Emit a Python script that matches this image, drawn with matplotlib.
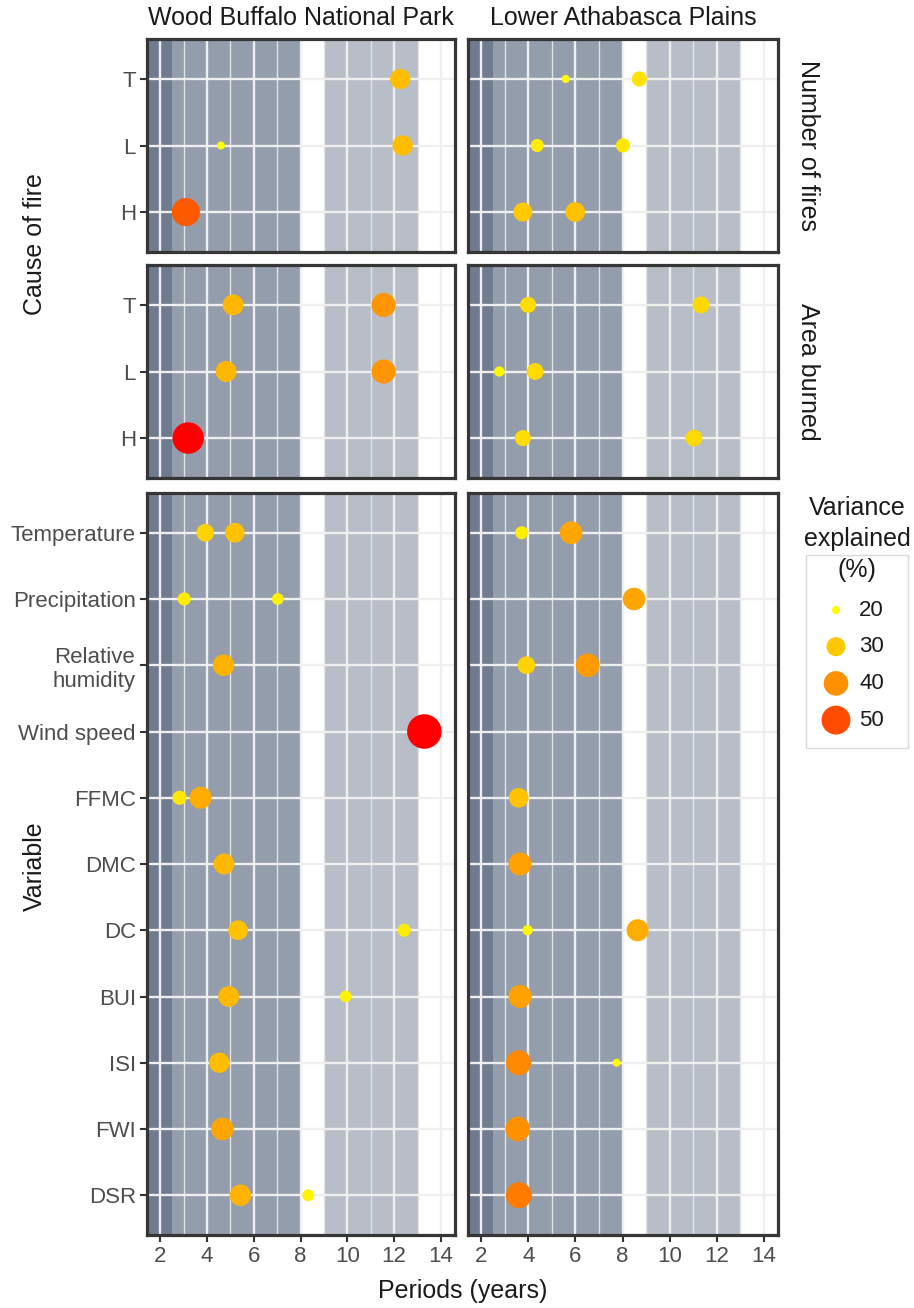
import matplotlib
matplotlib.use("Agg")
import matplotlib.pyplot as plt
from matplotlib.colors import LinearSegmentedColormap
import numpy as np

plt.rcParams['font.family'] = ['Liberation Sans', 'DejaVu Sans']

# ---- data -------------------------------------------------------------
regions = ["Wood Buffalo National Park", "Lower Athabasca Plains"]
causes = ["H", "L", "T"]                      # bottom -> top
variables = ["Temperature", "Precipitation", "Relative\nhumidity", "Wind speed",
             "FFMC", "DMC", "DC", "BUI", "ISI", "FWI", "DSR"]   # top -> bottom

# number of fires
nf_wb_cat = ["T", "L", "L", "H"]
nf_wb_period = [12.26, 4.6, 12.36, 3.1]
nf_wb_var = [32, 20, 32, 48]

nf_la_cat = ["T", "T", "L", "L", "H", "H"]
nf_la_period = [5.59, 8.71, 4.38, 8.02, 3.77, 5.99]
nf_la_var = [20, 25, 23, 24, 30, 31]

# area burned
ab_wb_cat = ["T", "T", "L", "L", "H"]
ab_wb_period = [5.12, 11.55, 4.82, 11.55, 3.2]
ab_wb_var = [33, 39, 33, 39, 57]

ab_la_cat = ["T", "T", "L", "L", "H", "H"]
ab_la_period = [3.99, 11.33, 2.77, 4.29, 3.77, 11.03]
ab_la_var = [26, 27, 21, 27, 26, 27]

# weather variables
wv_wb_name = ["Temperature", "Temperature", "Precipitation", "Precipitation",
              "Relative\nhumidity", "Wind speed", "FFMC", "FFMC", "DMC", "DC", "DC",
              "BUI", "BUI", "ISI", "FWI", "DSR", "DSR"]
wv_wb_period = [3.93, 5.19, 3.03, 7.03, 4.71, 13.29, 2.83, 3.73, 4.73, 5.33, 12.43,
                4.93, 9.93, 4.53, 4.66, 5.43, 8.33]
wv_wb_var = [28, 31, 23, 22, 34, 66, 24, 35, 33, 31, 23, 33, 22, 32, 36, 34, 22]

wv_la_name = ["Temperature", "Temperature", "Precipitation", "Relative\nhumidity",
              "Relative\nhumidity", "FFMC", "DMC", "DC", "DC", "BUI", "ISI", "ISI",
              "FWI", "DSR"]
wv_la_period = [3.72, 5.82, 8.49, 3.92, 6.52, 3.59, 3.65, 3.97, 8.64, 3.65, 3.59, 7.75,
                3.55, 3.6]
wv_la_var = [23, 36, 36, 28, 38, 31, 37, 21, 35, 37, 41, 20, 40, 43]

# shaded period bands
band_start = [0, 2.5, 9]
band_end = [2.5, 8, 13]
band_color = ["#6f7b8e", "#939dac", "#b8bec8"]

legend_vals = [20, 30, 40, 50]

# ---- scales -------------------------------------------------------------
VMIN, VMAX = 19.5, 67.5
cmap = LinearSegmentedColormap.from_list(
    "var", [(0.0, "#ffff00"), ((30 - VMIN) / (VMAX - VMIN), "#ffc800"),
            ((40 - VMIN) / (VMAX - VMIN), "#ff9000"),
            ((50 - VMIN) / (VMAX - VMIN), "#ff4c00"),
            ((57 - VMIN) / (VMAX - VMIN), "#ff0000"), (1.0, "#ff0000")])


def colour(v):
    return cmap(np.clip((np.asarray(v, float) - VMIN) / (VMAX - VMIN), 0, 1))


def size(v):
    # diameter in px (area-type scale), returned as scatter size in pt^2
    t = np.clip((np.asarray(v, float) - VMIN) / (VMAX - VMIN), 0, 1)
    d = 5 + 30 * np.sqrt(t)
    return (d * 0.72) ** 2


# ---- layout -------------------------------------------------------------
W, H = 914, 1308
fig = plt.figure(figsize=(W / 100, H / 100), dpi=100)


def px_axes(x0, y0, x1, y1):
    return fig.add_axes([x0 / W, 1 - y1 / H, (x1 - x0) / W, (y1 - y0) / H])


cols = [(147, 455), (468, 778)]
rows = [(39, 252), (265, 478), (493, 1235)]

TICK_C = "#4d4d4d"


def style(ax, ylabels, ypos, ylim, show_x, show_y):
    for s, e, c in zip(band_start, band_end, band_color):
        ax.axvspan(s, e, color=c, lw=0, zorder=1)
    ax.set_xlim(1.44, 14.6)
    ax.set_ylim(*ylim)
    ax.set_xticks(range(2, 15, 2))
    ax.set_xticks(range(3, 15, 2), minor=True)
    ax.set_yticks(ypos)
    ax.set_axisbelow("line")
    ax.grid(which="major", color="#efefef", lw=1.7)
    ax.grid(which="minor", axis="x", color="#e4e4e4", lw=1.0)
    ax.tick_params(which="minor", length=0)
    ax.tick_params(which="major", colors="#333333", width=1.5, length=5,
                   labelsize=16, labelcolor=TICK_C, pad=3)
    if show_y:
        ax.set_yticklabels(ylabels, multialignment="center")
    else:
        ax.tick_params(axis="y", length=0, labelleft=False)
    if not show_x:
        ax.tick_params(axis="x", length=0, labelbottom=False)
    for sp in ax.spines.values():
        sp.set_color("#363636")
        sp.set_linewidth(2.3)
        sp.set_zorder(5)


cause_y = {c: i + 1 for i, c in enumerate(causes)}
var_y = {v: len(variables) - i for i, v in enumerate(variables)}

panels = [
    (0, 0, nf_wb_cat, nf_wb_period, nf_wb_var),
    (0, 1, nf_la_cat, nf_la_period, nf_la_var),
    (1, 0, ab_wb_cat, ab_wb_period, ab_wb_var),
    (1, 1, ab_la_cat, ab_la_period, ab_la_var),
    (2, 0, wv_wb_name, wv_wb_period, wv_wb_var),
    (2, 1, wv_la_name, wv_la_period, wv_la_var),
]

for r, c, cats, per, val in panels:
    (x0, x1), (y0, y1) = cols[c], rows[r]
    ax = px_axes(x0, y0, x1, y1)
    if r < 2:
        ypos = [cause_y[k] for k in causes]
        style(ax, causes, ypos, (0.4, len(causes) + 0.6), False, c == 0)
        yv = [cause_y[k] for k in cats]
    else:
        ypos = [var_y[k] for k in variables]
        style(ax, variables, ypos, (0.4, len(variables) + 0.6), True, c == 0)
        yv = [var_y[k] for k in cats]
    ax.scatter(per, yv, s=size(val), c=colour(val), edgecolors="none", zorder=3)

# ---- strips, titles -----------------------------------------------------
TXT = "#1a1a1a"
for (x0, x1), name in zip(cols, regions):
    fig.text((x0 + x1) / 2 / W, 1 - 18 / H, name, ha="center", va="center",
             fontsize=18, color=TXT)
for (y0, y1), name in zip(rows[:2], ["Number of fires", "Area burned"]):
    fig.text(808 / W, 1 - (y0 + y1) / 2 / H, name, ha="center", va="center",
             rotation=-90, fontsize=18, color=TXT)

fig.text(35 / W, 1 - 244 / H, "Cause of fire", rotation=90, ha="center",
         va="center", fontsize=18, color=TXT)
fig.text(35 / W, 1 - 866 / H, "Variable", rotation=90, ha="center",
         va="center", fontsize=18, color=TXT)
fig.text(463 / W, 1 - 1291 / H, "Periods (years)", ha="center", va="center",
         fontsize=18, color=TXT)

# ---- legend -------------------------------------------------------------
lay = fig.add_axes([0, 0, 1, 1])
lay.set_xlim(0, W)
lay.set_ylim(H, 0)
lay.axis("off")
lay.add_patch(plt.Rectangle((806, 555), 102, 193, fill=False, ec="#d9d9d9", lw=1))
lay.text(857, 539, "Variance\nexplained\n(%)", ha="center", va="center",
         fontsize=18, color=TXT, linespacing=1.38)
for i, v in enumerate(legend_vals):
    yy = 610 + i * 36.7
    lay.scatter([836], [yy], s=size(v), c=colour(v), edgecolors="none")
    lay.text(859, yy, str(v), ha="left", va="center", fontsize=16, color=TXT)

fig.savefig("out.png", dpi=100)
